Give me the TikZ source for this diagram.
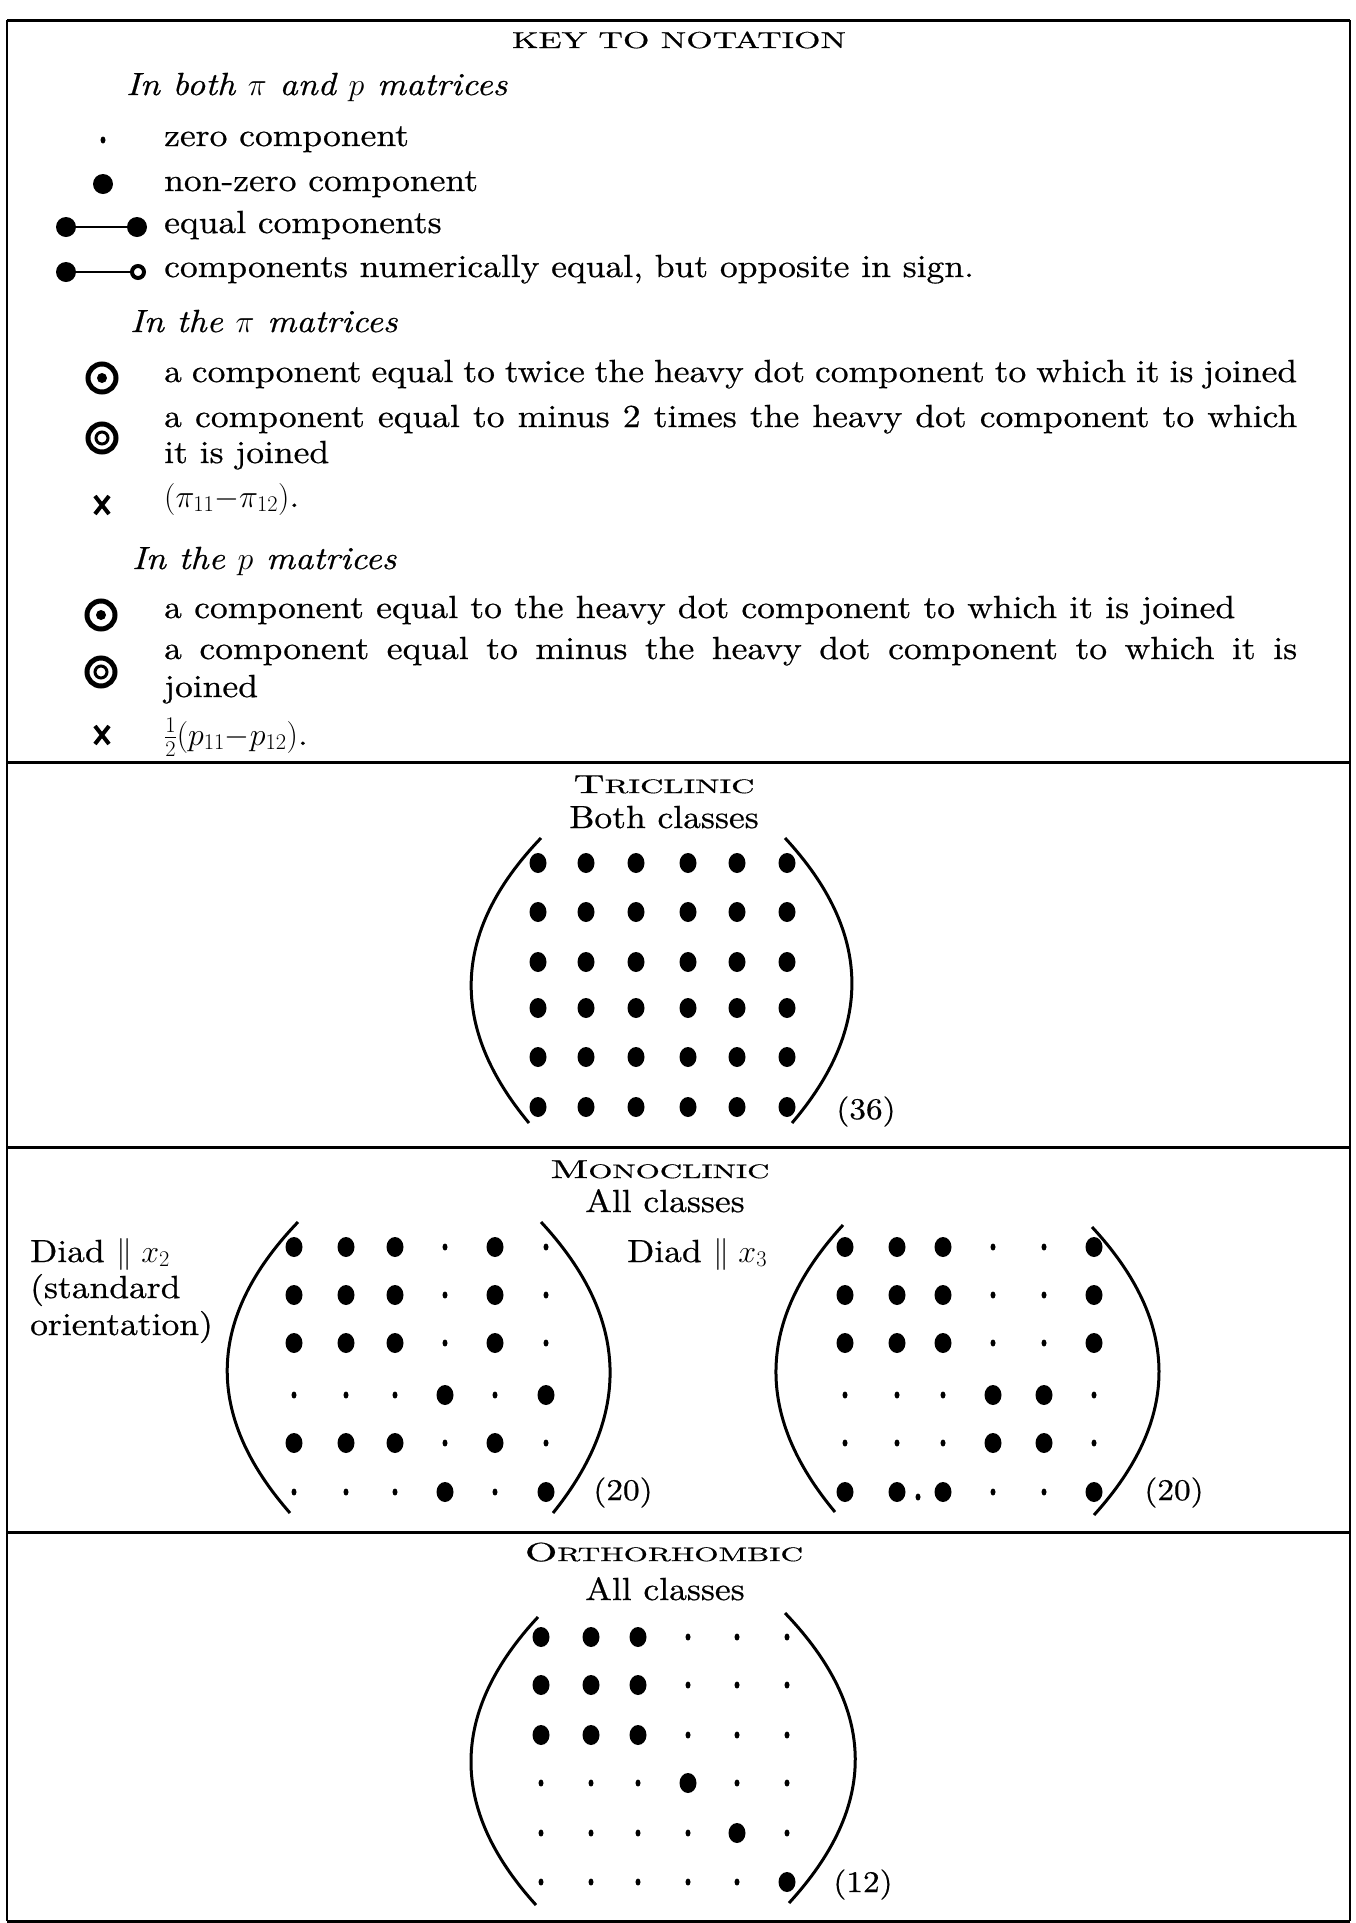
\RequirePackage{fix-cm}
\documentclass[tikz,border=0pt]{standalone}
\usepackage{fontspec}
\setmainfont{lmroman10-regular.otf}[FakeStretch=1.11, FakeBold=0.6, ItalicFont=lmroman10-italic.otf, BoldFont=lmroman10-bold.otf]
\usepackage{graphicx}
\usetikzlibrary{shapes.geometric}
\newsavebox\fitbox
\newcommand\fitto[2]{\sbox\fitbox{#2}\pgfmathsetmacro\fitr{#1/\the\wd\fitbox}\scalebox{\fitr}[1]{\usebox\fitbox}}
\newcommand\fsc[2]{{\fontsize{26}{30}\selectfont #1}{\fontsize{19.5}{22}\selectfont #2}}
\newcommand\dotmat[4]{%
  \foreach \row [count=\r] in {#4} {
    \foreach \v [count=\c] in \row {
      \pgfmathsetmacro\xx{{#2}[\c-1]}
      \pgfmathsetmacro\yy{{#3}[\r-1]}
      \ifnum\v=1 \node[bigdot] (#1-\r-\c) at (\xx,\yy) {};
      \else \node[smalldot] (#1-\r-\c) at (\xx,\yy) {}; \fi
    }
  }}
\tikzset{
  body/.style={anchor=base west, inner sep=0pt, font=\fontsize{32}{36}\selectfont},
  head/.style={anchor=base west, inner sep=0pt, font=\fontsize{32}{36}\selectfont\itshape},
  ctext/.style={anchor=base, inner sep=0pt, font=\fontsize{32}{36}\selectfont},
  lbl/.style={anchor=base, inner sep=0pt, font=\fontsize{30}{34}\selectfont},
  bigdot/.style={ellipse, fill=black, draw=none, inner sep=0pt, minimum width=17pt, minimum height=20pt},
  smalldot/.style={ellipse, fill=black, draw=none, inner sep=0pt, minimum width=5pt, minimum height=7pt},
  keydot/.style={circle, fill=black, draw=none, inner sep=0pt, minimum size=20pt},
  opendot/.style={circle, draw=black, line width=4pt, fill=white, inner sep=0pt, minimum size=12pt},
  ring/.style={circle, draw=black, line width=5pt, inner sep=0pt, minimum size=28pt},
  innerfill/.style={circle, fill=black, inner sep=0pt, minimum size=10pt},
  innerring/.style={circle, draw=black, line width=3pt, inner sep=0pt, minimum size=12pt},
  joinline/.style={line width=2pt},
  bracket/.style={line width=3pt},
  rule/.style={line width=3pt},
  side/.style={line width=1.5pt},
  cross/.style={line width=4pt}
}
\begin{document}
\begin{tikzpicture}[x=1pt,y=-1pt]
\useasboundingbox (0,0) rectangle (1356,1923);
% frame
\draw[side] (7,20) -- (7,1921);
\draw[side] (1350,20) -- (1350,1921);
\draw[rule] (7,20) -- (1350,20);
\draw[rule] (7,762) -- (1350,762);
\draw[rule] (7,1147) -- (1350,1147);
\draw[rule] (7,1532) -- (1350,1532);
\draw[rule] (7,1921) -- (1350,1921);

% ---------- key ----------
\node[anchor=base, inner sep=0pt, font=\fontsize{23}{26}\selectfont] (title) at (679,48) {\fitto{334}{KEY TO NOTATION}};
\node[head] (h1) at (126,95) {In both $\pi$ and $p$ matrices};

\node[smalldot] (k0) at (103,140) {};
\node[keydot] (k1) at (103,184) {};
\node[keydot] (k2a) at (66,227) {};
\node[keydot] (k2b) at (137,227) {};
\draw[joinline] (k2a) -- (k2b);
\node[keydot] (k3a) at (66,272) {};
\node[opendot] (k3b) at (138,272) {};
\draw[joinline] (k3a) -- (k3b);

\node[body] (t0) at (164,146) {zero component};
\node[body] (t1) at (164,191) {non-zero component};
\node[body] (t2) at (164,233) {equal components};
\node[body] (t3) at (164,277) {components numerically equal, but opposite in sign.};

\node[head] (h2) at (130,332) {In the $\pi$ matrices};
\node[ring] (pa) at (102,378) {};
\node[innerfill] (pai) at (102,378) {};
\node[ring] (pb) at (102,438) {};
\node[innerring] (pbi) at (102,438) {};
\coordinate (pc) at (102,505);
\draw[cross] ([shift={(-7,-9)}]pc) -- ([shift={(7,9)}]pc);
\draw[cross] ([shift={(7,-9)}]pc) -- ([shift={(-7,9)}]pc);

\node[body] (t4) at (164,382) {\makebox[1133pt][s]{a component equal to twice the heavy dot component to which it is joined}};
\node[body] (t5) at (164,427) {\makebox[1133pt][s]{a component equal to minus 2 times the heavy dot component to which}};
\node[body] (t6) at (164,463) {it is joined};
\node[body] (t7) at (164,507) {$(\pi_{11}{-}\pi_{12})$.};

\node[head] (h3) at (132,569) {In the $p$ matrices};
\node[ring] (qa) at (101,615) {};
\node[innerfill] (qai) at (101,615) {};
\node[ring] (qb) at (101,672) {};
\node[innerring] (qbi) at (101,672) {};
\coordinate (qc) at (102,735);
\draw[cross] ([shift={(-7,-9)}]qc) -- ([shift={(7,9)}]qc);
\draw[cross] ([shift={(7,-9)}]qc) -- ([shift={(-7,9)}]qc);

\node[body] (t8) at (164,618) {\makebox[1071pt][s]{a component equal to the heavy dot component to which it is joined}};
\node[body] (t9) at (164,659) {\makebox[1133pt][s]{a component equal to minus the heavy dot component to which it is}};
\node[body] (t10) at (164,697) {joined};
\node[body] (t11) at (164,745) {$\frac{1}{2}(p_{11}{-}p_{12})$.};

% ---------- triclinic ----------
\node[anchor=base, inner sep=0pt] (tri) at (664,793) {\fitto{181}{\fsc{T}{RICLINIC}}};
\node[ctext] (tric) at (664,828) {Both classes};
\dotmat{A}{538,586,636,688,737,787}{863,912,962,1008,1057,1107}{{1,1,1,1,1,1},{1,1,1,1,1,1},{1,1,1,1,1,1},{1,1,1,1,1,1},{1,1,1,1,1,1},{1,1,1,1,1,1}}
\draw[bracket] (541,838) .. controls (450,933) and (450,1028) .. (529,1123);
\draw[bracket] (785,838) .. controls (873,933) and (873,1028) .. (792,1123);
\node[lbl] (n36) at (866,1119) {(36)};

% ---------- monoclinic ----------
\node[anchor=base, inner sep=0pt] (mono) at (660,1178) {\fitto{219}{\fsc{M}{ONOCLINIC}}};
\node[ctext] (monoc) at (665,1212) {All classes};
\node[body] (d2a) at (30,1262) {Diad $\parallel x_2$};
\node[body] (d2b) at (30,1298) {(standard};
\node[body] (d2c) at (30,1335) {orientation)};
\node[body] (d3) at (627,1262) {Diad $\parallel x_3$};
\dotmat{B}{294,346,395,445,495,546}{1247,1295,1343,1395,1443,1492}{{1,1,1,0,1,0},{1,1,1,0,1,0},{1,1,1,0,1,0},{0,0,0,1,0,1},{1,1,1,0,1,0},{0,0,0,1,0,1}}
\draw[bracket] (298,1222) .. controls (205,1319) and (205,1416) .. (290,1513);
\draw[bracket] (541,1222) .. controls (631,1319) and (631,1416) .. (553,1513);
\node[lbl] (n20a) at (623,1500) {(20)};
\dotmat{C}{845,897,943,993,1044,1094}{1247,1295,1343,1395,1443,1492}{{1,1,1,0,0,1},{1,1,1,0,0,1},{1,1,1,0,0,1},{0,0,0,1,1,0},{0,0,0,1,1,0},{1,1,1,0,0,1}}
\node[smalldot] (Cx) at (918,1497) {};
\draw[bracket] (843,1225) .. controls (755,1321) and (755,1416) .. (835,1512);
\draw[bracket] (1092,1227) .. controls (1181,1323) and (1181,1419) .. (1094,1515);
\node[lbl] (n20b) at (1174,1500) {(20)};

% ---------- orthorhombic ----------
\node[anchor=base, inner sep=0pt] (orth) at (664,1561) {\fitto{278}{\fsc{O}{RTHORHOMBIC}}};
\node[ctext] (orthc) at (665,1600) {All classes};
\dotmat{D}{541,591,638,688,737,787}{1637,1685,1735,1783,1833,1882}{{1,1,1,0,0,0},{1,1,1,0,0,0},{1,1,1,0,0,0},{0,0,0,1,0,0},{0,0,0,0,1,0},{0,0,0,0,0,1}}
\draw[bracket] (538,1617) .. controls (449,1713) and (449,1809) .. (536,1905);
\draw[bracket] (785,1613) .. controls (878,1710) and (878,1806) .. (789,1903);
\node[lbl] (n12) at (863,1892) {(12)};
\end{tikzpicture}
\end{document}
